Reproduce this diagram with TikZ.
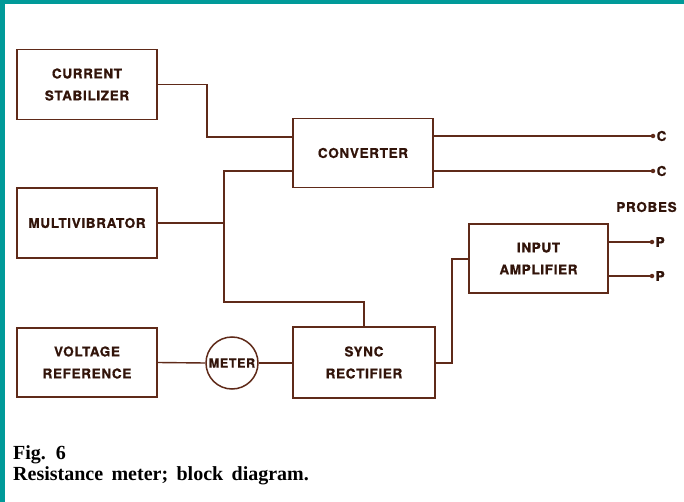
\documentclass[tikz,border=0pt]{standalone}
\usepackage{fontspec}
\setmainfont{Liberation Serif}
\newfontfamily\blkfont{TeX Gyre Heros}[LetterSpace=5,FakeBold=0.8]
\definecolor{frameteal}{RGB}{0,154,153}
\definecolor{ink}{RGB}{95,42,25}
\definecolor{txt}{RGB}{50,20,10}
\begin{document}
\begin{tikzpicture}[x=1pt,y=-1pt,
  blockbox/.style={draw=ink,line width=1.5pt,minimum width=140pt,minimum height=70pt,
     inner sep=0pt,align=center,text=txt,font=\blkfont\bfseries\fontsize{13.5}{22}\selectfont},
  wire/.style={draw=ink,line width=1.4pt},
  termdot/.style={circle,fill=ink,inner sep=0pt,minimum size=4.5pt},
  termlab/.style={anchor=west,inner sep=0pt,text=txt,font=\blkfont\bfseries\fontsize{13.5}{14}\selectfont}]
\useasboundingbox (0,0) rectangle (684,502);
\fill[white] (0,0) rectangle (684,502);
\fill[frameteal] (0,0) rectangle (684,4);
\fill[frameteal] (0,0) rectangle (5,502);

\node[blockbox] (cs) at (87,84.5) {CURRENT\\STABILIZER};
\node[blockbox] (mv) at (87,223) {MULTIVIBRATOR};
\node[blockbox,minimum height=69pt] (vr) at (87,362.5) {VOLTAGE\\REFERENCE};
\node[blockbox,minimum height=69pt] (conv) at (363,153) {CONVERTER};
\node[blockbox,minimum width=142pt,minimum height=71pt] (sync) at (364,362.5) {SYNC\\RECTIFIER};
\node[blockbox,minimum width=139pt,minimum height=69pt] (amp) at (538.5,258.5) {INPUT\\AMPLIFIER};
\node[circle,draw=ink,line width=1.5pt,minimum size=52pt,inner sep=0pt,text=txt,
  font=\blkfont\bfseries\fontsize{12.5}{13}\selectfont] (meter) at (232,363) {METER};

% terminals
\node[termdot] (c1) at (653,136) {};
\node[termdot] (c2) at (653,171) {};
\node[termdot] (p1) at (652,242) {};
\node[termdot] (p2) at (652,276) {};
\node[termlab] (c1l) at (656.5,136) {C};
\node[termlab] (c2l) at (656.5,171) {C};
\node[termlab] (p1l) at (655.5,242) {P};
\node[termlab] (p2l) at (655.5,276) {P};
\node[termlab,anchor=center] (probes) at (646.5,207) {PROBES};

\coordinate (j1) at (207,137);
\coordinate (j2) at (224,171);
\coordinate (j3) at (224,302);
\coordinate (j4) at (452,259);

% connectors
\draw[wire] (cs.east) -| (j1) -- (conv.west |- j1);
\draw[wire] (conv.west |- j2) -- (j2) -- (j3) -| (sync.north);
\draw[wire] (mv.east) -- (mv.east -| j2);
\draw[wire] (vr.east) -- (meter.west);
\draw[wire] (meter.east) -- (sync.west |- meter.east);
\draw[wire] (sync.east |- meter.east) -| (j4) -- (amp.west |- j4);
\draw[wire] (conv.east |- c1) -- (c1);
\draw[wire] (conv.east |- c2) -- (c2);
\draw[wire] (amp.east |- p1) -- (p1);
\draw[wire] (amp.east |- p2) -- (p2);

% caption
\node[anchor=base west,inner sep=0pt,text=black,font=\bfseries\fontsize{20}{22}\selectfont] (fig) at (13,459) {Fig.\ \ 6};
\node[anchor=base west,inner sep=0pt,text=black,font=\bfseries\fontsize{20}{22}\selectfont,
  execute at begin node={\spaceskip=0.42em plus 0.1em}] (cap) at (13,480) {Resistance meter; block diagram.};
\end{tikzpicture}
\end{document}
